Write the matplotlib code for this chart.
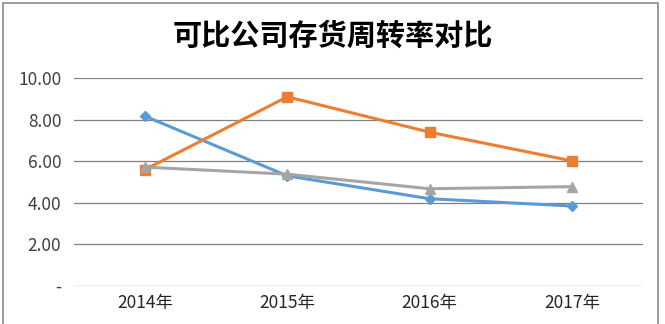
import matplotlib.pyplot as plt
from matplotlib.patches import Rectangle

plt.rcParams['font.family'] = ['Noto Sans CJK SC', 'DejaVu Sans']

# data
years = ['2014年', '2015年', '2016年', '2017年']
blue_vals = [8.17, 5.30, 4.20, 3.85]
orange_vals = [5.60, 9.10, 7.40, 6.02]
gray_vals = [5.72, 5.38, 4.68, 4.78]
y_ticks = [0, 2, 4, 6, 8, 10]
y_labels = ['-', '2.00', '4.00', '6.00', '8.00', '10.00']

fig = plt.figure(figsize=(6.65, 3.24), dpi=100)
ax = fig.add_axes([0.111, 0.117, 0.856, 0.642])

x = range(len(years))
ax.plot(x, blue_vals, color='#5B9BD5', lw=2.2, marker='D', ms=5.5, zorder=3)
ax.plot(x, orange_vals, color='#ED7D31', lw=2.2, marker='s', ms=6.5, zorder=3)
ax.plot(x, gray_vals, color='#A5A5A5', lw=2.2, marker='^', ms=7.5, zorder=3)

ax.set_xlim(-0.5, 3.5)
ax.set_ylim(0, 10)
ax.set_yticks(y_ticks)
ax.set_yticklabels(y_labels, fontsize=12.5, color='#404040')
ax.set_xticks(list(x))
ax.set_xticklabels(years, fontsize=12.5, color='#262626')
ax.yaxis.grid(True, color='#808080', lw=0.9)
ax.set_axisbelow(True)
for s in ax.spines.values():
    s.set_visible(False)
ax.tick_params(length=0)
ax.tick_params(axis='y', pad=9)
ax.tick_params(axis='x', pad=6)

fig.text(0.5, 0.888, '可比公司存货周转率对比', ha='center', va='center',
         fontsize=21, fontweight='bold', color='#000000')

# outer chart border
fig.patches.append(Rectangle((3 / 665, -0.05), 655 / 665, 1.04, transform=fig.transFigure,
                             fill=False, edgecolor='#8c8c8c', lw=1.2))

fig.savefig('out.png', dpi=100)
